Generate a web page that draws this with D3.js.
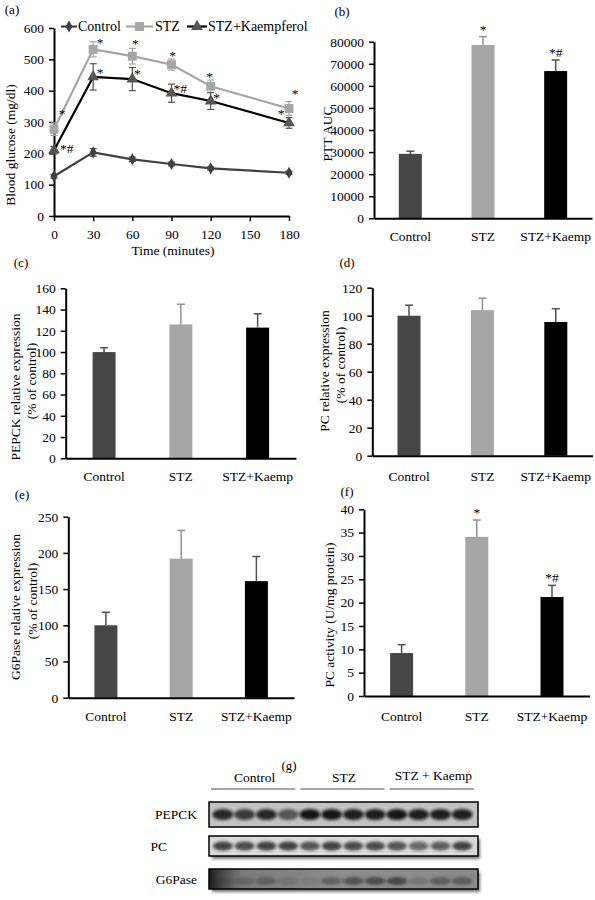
<!DOCTYPE html>
<html><head><meta charset="utf-8">
<script src="https://cdn.jsdelivr.net/npm/d3@7"></script>
<style>
body{margin:0;background:#fff;}
svg{display:block;font-family:"Liberation Serif","Times New Roman",serif;}
</style></head><body>
<svg id="fig" width="595" height="900"></svg>
<script>
// ---------------- DATA ----------------
const times = [0, 30, 60, 90, 120, 180];
const timeTicks = [0, 30, 60, 90, 120, 150, 180];
const glucoseTicks = [0, 100, 200, 300, 400, 500, 600];
const seriesNames = ["Control", "STZ", "STZ+Kaempferol"];
const glucoseControl = [127, 203, 181, 166, 152, 138];
const glucoseControlErr = [6, 12, 7, 6, 5, 5];
const glucoseSTZ = [277, 532, 510, 483, 414, 343];
const glucoseSTZErr = [20, 24, 25, 18, 20, 22];
const glucoseKaemp = [210, 444, 437, 392, 367, 297];
const glucoseKaempErr = [12, 42, 37, 29, 27, 17];
const glucoseSTZSig = ["*", "*", "*", "*", "*", "*"];
const glucoseKaempSig = ["*#", "*", "*", "*#", "*", "*"];

const groups = ["Control", "STZ", "STZ+Kaemp"];
const pttAUC = [29200, 78500, 66700];
const pttAUCErr = [1200, 3800, 5000];
const pttAUCSig = ["", "*", "*#"];
const pttTicks = [0, 10000, 20000, 30000, 40000, 50000, 60000, 70000, 80000];

const pepckExpr = [100, 126, 123];
const pepckExprErr = [4, 19, 13];
const pepckTicks = [0, 20, 40, 60, 80, 100, 120, 140, 160];

const pcExpr = [100, 104, 95.5];
const pcExprErr = [7.5, 8.5, 9.5];
const pcTicks = [0, 20, 40, 60, 80, 100, 120];

const g6paseExpr = [100, 192, 161];
const g6paseExprErr = [18, 39, 34];
const g6paseTicks = [0, 50, 100, 150, 200, 250];

const pcActivity = [9.2, 34.1, 21.2];
const pcActivityErr = [1.8, 3.6, 2.5];
const pcActivitySig = ["", "*", "*#"];
const pcActivityTicks = [0, 5, 10, 15, 20, 25, 30, 35, 40];

// western blot (relative band darkness per lane)
const blotGroups = ["Control", "STZ", "STZ + Kaemp"];
const blotLanes = [1, 2, 3, 4, 5, 6, 7, 8, 9, 10, 11, 12];
const blotRows = ["PEPCK", "PC", "G6Pase"];
const pepckBands = [0.85, 0.75, 0.85, 0.6, 0.95, 0.95, 0.9, 0.9, 0.95, 0.9, 0.9, 0.9];
const pcBands = [0.8, 0.75, 0.8, 0.8, 0.7, 0.8, 0.75, 0.75, 0.7, 0.6, 0.65, 0.8];
const g6paseBands = [0.15, 0.25, 0.35, 0.15, 0.1, 0.4, 0.55, 0.6, 0.65, 0.2, 0.45, 0.45];

// ---------------- STYLE ----------------
const FONT = '"Liberation Serif","Times New Roman",serif';
const barColors = ["#464646", "#a6a6a6", "#000000"];
const errColors = ["#505050", "#909090", "#505050"];
const lineColors = ["#404040", "#a6a6a6", "#000000"];
const markerColors = ["#404040", "#a6a6a6", "#555555"];
const fmt = d3.format("d");

const svg = d3.select("#fig");

function styleAxis(g) {
  g.attr("font-family", FONT).attr("font-size", 13.5);
  g.select(".domain").attr("stroke", "#000").attr("stroke-width", 2);
  g.selectAll(".tick line").attr("stroke", "#000").attr("stroke-width", 1.5);
  g.selectAll(".tick text").attr("fill", "#000");
}

function text(x, y, s, opts = {}) {
  const t = svg.append("text").attr("x", x).attr("y", y).text(s)
    .attr("font-size", opts.size || 13.5).attr("fill", opts.fill || "#000")
    .attr("text-anchor", opts.anchor || "middle");
  if (opts.rotate) {
    t.attr("x", 0).attr("y", 0).attr("transform", `translate(${x},${y}) rotate(-90)`)
     .attr("dominant-baseline", "central");
  }
  return t;
}

// ---------------- PANEL (a) ----------------
(function () {
  const x = d3.scaleLinear().domain([0, 180]).range([54, 289]);
  const y = d3.scaleLinear().domain([0, 600]).range([216, 28]);
  const g = svg.append("g");
  g.append("g").attr("transform", "translate(0,216)")
    .call(d3.axisBottom(x).tickValues(timeTicks).tickFormat(fmt).tickSize(5).tickPadding(8).tickSizeOuter(0))
    .call(styleAxis);
  g.append("g").attr("transform", "translate(54,0)")
    .call(d3.axisLeft(y).tickValues(glucoseTicks).tickFormat(fmt).tickSize(5).tickPadding(5).tickSizeOuter(0))
    .call(styleAxis);

  const series = [
    { vals: glucoseControl, errs: glucoseControlErr, shape: d3.symbolDiamond, size: 42 },
    { vals: glucoseSTZ, errs: glucoseSTZErr, shape: d3.symbolSquare, size: 80 },
    { vals: glucoseKaemp, errs: glucoseKaempErr, shape: d3.symbolTriangle, size: 60 }
  ];
  const line = d3.line().x((d, i) => x(times[i])).y(d => y(d));
  series.forEach((s, k) => {
    s.vals.forEach((v, i) => {
      const cx = x(times[i]);
      g.append("line").attr("x1", cx).attr("x2", cx).attr("y1", y(v - s.errs[i])).attr("y2", y(v + s.errs[i]))
        .attr("stroke", markerColors[k]).attr("stroke-width", 1.2);
      [v - s.errs[i], v + s.errs[i]].forEach(e => {
        g.append("line").attr("x1", cx - 3.5).attr("x2", cx + 3.5).attr("y1", y(e)).attr("y2", y(e))
          .attr("stroke", markerColors[k]).attr("stroke-width", 1.2);
      });
    });
  });
  series.forEach((s, k) => {
    g.append("path").datum(s.vals).attr("d", line).attr("fill", "none")
      .attr("stroke", lineColors[k]).attr("stroke-width", 2.2);
    g.selectAll(null).data(s.vals).join("path")
      .attr("d", d3.symbol(s.shape, s.size))
      .attr("transform", (d, i) => `translate(${x(times[i])},${y(d)})`)
      .attr("fill", markerColors[k]);
  });
  // significance labels (offsets are layout only)
  const stzOff = [[8, -11], [7, -2], [3, -8], [1, -5], [-1, -5], [6, -11]];
  const kOff = [[9, 3], [7, 0], [5, -1], [5, 0], [6, 1], [-8, -5]];
  glucoseSTZ.forEach((v, i) => {
    text(x(times[i]) + stzOff[i][0], y(v) + stzOff[i][1], glucoseSTZSig[i], { size: 13.5 });
  });
  glucoseKaemp.forEach((v, i) => {
    const anchor = glucoseKaempSig[i].length > 1 ? "start" : "middle";
    text(x(times[i]) + kOff[i][0] - (anchor === "start" ? 3 : 0), y(v) + kOff[i][1], glucoseKaempSig[i], { size: 13.5, anchor });
  });
  // legend
  const legX = [[61, 77, 78], [126, 153, 155], [187, 207, 208]];
  series.forEach((s, k) => {
    const [a, b, t] = legX[k];
    g.append("line").attr("x1", a).attr("x2", b).attr("y1", 26.5).attr("y2", 26.5)
      .attr("stroke", lineColors[k]).attr("stroke-width", 2.2);
    g.append("path").attr("d", d3.symbol(s.shape, s.size)).attr("transform", `translate(${(a + b) / 2},26.5)`)
      .attr("fill", markerColors[k]);
    text(t, 31, seriesNames[k], { size: 14, anchor: "start" });
  });
  text(12, 14, "(a)", { size: 13 });
  text(10, 145, "Blood glucose (mg/dl)", { size: 13.5, rotate: true });
  text(173, 255, "Time (minutes)", { size: 13.5 });
})();

// ---------------- BAR PANELS ----------------
function barPanel(cfg) {
  const x = d3.scaleBand().domain(groups).range([cfg.x0, cfg.x1]);
  const y = d3.scaleLinear().domain([0, cfg.yMax]).range([cfg.yB, cfg.yT]);
  const g = svg.append("g");
  const bw = 23;
  const cx = i => x(groups[i]) + x.bandwidth() / 2;
  g.selectAll(null).data(cfg.values).join("rect")
    .attr("x", (d, i) => cx(i) - bw / 2).attr("y", d => y(d))
    .attr("width", bw).attr("height", d => cfg.yB - y(d))
    .attr("fill", (d, i) => barColors[i]);
  cfg.values.forEach((v, i) => {
    const top = y(v + cfg.errs[i]);
    g.append("line").attr("x1", cx(i)).attr("x2", cx(i)).attr("y1", y(v)).attr("y2", top)
      .attr("stroke", errColors[i]).attr("stroke-width", 1.5);
    g.append("line").attr("x1", cx(i) - 4).attr("x2", cx(i) + 4).attr("y1", top).attr("y2", top)
      .attr("stroke", errColors[i]).attr("stroke-width", 1.5);
    if (cfg.sig && cfg.sig[i]) text(cx(i), top - 3, cfg.sig[i], { size: 13.5 });
  });
  g.append("g").attr("transform", `translate(0,${cfg.yB})`)
    .call(d3.axisBottom(x).tickSize(0).tickPadding(cfg.xPad || 13).tickSizeOuter(0))
    .call(styleAxis);
  g.append("g").attr("transform", `translate(${cfg.x0},0)`)
    .call(d3.axisLeft(y).tickValues(cfg.ticks).tickFormat(fmt).tickSize(5).tickPadding(5).tickSizeOuter(0))
    .call(styleAxis);
  text(cfg.tag[0], cfg.tag[1], cfg.tag[2], { size: 13 });
  cfg.ylab.forEach(l => text(l[0], l[1], l[2], { size: 13.5, rotate: true }));
}

barPanel({ x0: 374, x1: 592, yB: 218.3, yT: 41.7, yMax: 80000, ticks: pttTicks,
  values: pttAUC, errs: pttAUCErr, sig: pttAUCSig, tag: [342, 16, "(b)"],
  ylab: [[327, 134, "PTT AUC"]] });

barPanel({ x0: 65.7, x1: 296, yB: 458.3, yT: 288.3, yMax: 160, ticks: pepckTicks,
  values: pepckExpr, errs: pepckExprErr, tag: [21, 267, "(c)"],
  ylab: [[15, 387, "PEPCK relative expression"], [31, 381, "(% of control)"]] });

barPanel({ x0: 372.3, x1: 592.5, yB: 455.7, yT: 287.7, yMax: 120, ticks: pcTicks,
  values: pcExpr, errs: pcExprErr, tag: [347, 267, "(d)"], xPad: 16,
  ylab: [[324, 371, "PC relative expression"], [340, 365, "(% of control)"]] });

barPanel({ x0: 68.3, x1: 294, yB: 697.7, yT: 516.7, yMax: 250, ticks: g6paseTicks,
  values: g6paseExpr, errs: g6paseExprErr, tag: [22, 499, "(e)"], xPad: 14,
  ylab: [[15, 607, "G6Pase relative expression"], [32, 601, "(% of control)"]] });

barPanel({ x0: 364, x1: 589.6, yB: 696, yT: 509.3, yMax: 40, ticks: pcActivityTicks,
  values: pcActivity, errs: pcActivityErr, sig: pcActivitySig, tag: [347, 496, "(f)"], xPad: 15,
  ylab: [[329, 615, "PC activity (U/mg protein)"]] });

// ---------------- PANEL (g) western blot ----------------
(function () {
  const defs = svg.append("defs");
  defs.append("filter").attr("id", "blurBand").attr("x", "-50%").attr("y", "-80%").attr("width", "200%").attr("height", "260%")
    .append("feGaussianBlur").attr("stdDeviation", 1.8);
  defs.append("filter").attr("id", "blurShadow").attr("x", "-10%").attr("y", "-50%").attr("width", "120%").attr("height", "200%")
    .append("feGaussianBlur").attr("stdDeviation", 1.5);
  const grad = defs.append("linearGradient").attr("id", "g6bg").attr("x1", 0).attr("x2", 1).attr("y1", 0).attr("y2", 0);
  [[0, "#1c1c1c"], [0.05, "#4a4a4a"], [0.12, "#7a7a7a"], [0.5, "#8e8e8e"], [1, "#8a8a8a"]]
    .forEach(([o, c]) => grad.append("stop").attr("offset", o).attr("stop-color", c));

  const x = d3.scaleBand().domain(blotLanes).range([212, 473]);
  const lc = l => x(l) + x.bandwidth() / 2;
  const gx = d3.scaleBand().domain(blotGroups).range([210, 478]);

  text(289, 770, "(g)", { size: 13 });
  blotGroups.forEach((gname, i) => {
    text(gx(gname) + gx.bandwidth() / 2, i === 2 ? 780 : 782, gname, { size: 13.5 });
    svg.append("line").attr("x1", gx(gname) + 1).attr("x2", gx(gname) + gx.bandwidth() - 4)
      .attr("y1", 789).attr("y2", 789).attr("stroke", "#8a8a8a").attr("stroke-width", 1.5);
  });

  const rows = [
    { name: "PEPCK", bands: pepckBands, y0: 802, y1: 827, bg: "#c2c2c2", band: "#111", rx: 10.5, ry: 5.5, lx: 197, shadow: false },
    { name: "PC", bands: pcBands, y0: 836, y1: 856, bg: "#dadada", band: "#1a1a1a", rx: 10, ry: 4.5, lx: 167, shadow: true },
    { name: "G6Pase", bands: g6paseBands, y0: 869, y1: 889, bg: "url(#g6bg)", band: "#222", rx: 10.5, ry: 4, lx: 197, shadow: true }
  ];
  rows.forEach(r => {
    if (r.shadow) {
      svg.append("rect").attr("x", 212).attr("y", r.y0 + 3).attr("width", 268).attr("height", r.y1 - r.y0)
        .attr("fill", "#777").attr("filter", "url(#blurShadow)");
    }
    svg.append("rect").attr("x", 209).attr("y", r.y0).attr("width", 269).attr("height", r.y1 - r.y0)
      .attr("fill", r.bg);
    const cy = (r.y0 + r.y1) / 2 + (r.name === "G6Pase" ? 2 : 0);
    svg.selectAll(null).data(r.bands).join("ellipse")
      .attr("cx", (d, i) => lc(blotLanes[i])).attr("cy", cy)
      .attr("rx", r.rx).attr("ry", r.ry)
      .attr("fill", r.band).attr("opacity", d => d)
      .attr("filter", "url(#blurBand)");
    svg.append("rect").attr("x", 209).attr("y", r.y0).attr("width", 269).attr("height", r.y1 - r.y0)
      .attr("fill", "none").attr("stroke", "#000").attr("stroke-width", 1.5);
    text(r.lx, (r.y0 + r.y1) / 2 + 4.5, r.name, { size: 13.5, anchor: "end" });
  });
})();
</script>
</body></html>
